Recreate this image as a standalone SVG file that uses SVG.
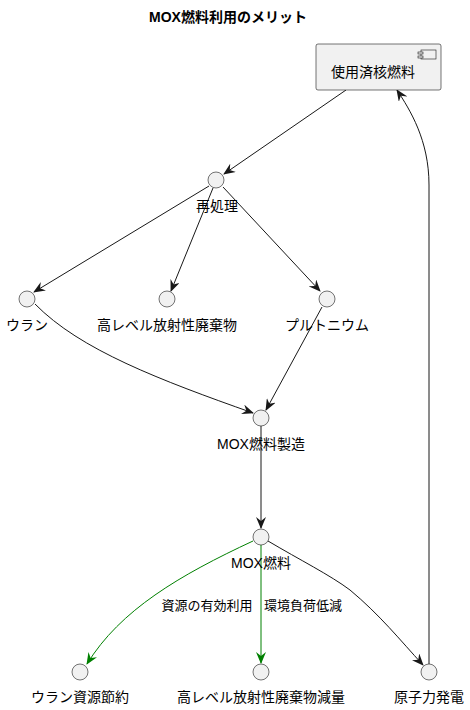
<svg xmlns="http://www.w3.org/2000/svg" width="470" height="710" viewBox="0 0 470 710">
<style>
text{font-family:"Liberation Sans","Noto Sans CJK JP",sans-serif;font-size:14px;fill:#000}
.t{font-weight:bold;font-size:14px}
.lbl{text-anchor:middle}
.el{font-size:13px}
circle{fill:#f1f1f1;stroke:#181818;stroke-width:0.6}
.e{fill:none;stroke:#181818;stroke-width:1}
.g{fill:none;stroke:#008000;stroke-width:1}
</style>
<defs>
<marker id="a" viewBox="0 0 12 10" refX="11" refY="5" markerWidth="12" markerHeight="10" markerUnits="userSpaceOnUse" orient="auto"><path d="M0,0 L12,5 L0,10 L4,5 Z" fill="#181818"/></marker>
<marker id="ag" viewBox="0 0 12 10" refX="11" refY="5" markerWidth="12" markerHeight="10" markerUnits="userSpaceOnUse" orient="auto"><path d="M0,0 L12,5 L0,10 L4,5 Z" fill="#008000"/></marker>
</defs>
<rect width="470" height="710" fill="#fff"/>
<text class="t lbl" x="228" y="22">MOX燃料利用のメリット</text>
<g id="connectors">
<path class="e" d="M346,90 L224,174" marker-end="url(#a)"/>
<path class="e" d="M209,186 L34,292" marker-end="url(#a)"/>
<path class="e" d="M213,188 L171,291" marker-end="url(#a)"/>
<path class="e" d="M223,187 L320,291" marker-end="url(#a)"/>
<path class="e" d="M35,304 C80,350 160,380 253,413" marker-end="url(#a)"/>
<path class="e" d="M322,307 L266,410" marker-end="url(#a)"/>
<path class="e" d="M261,426 L261,528" marker-end="url(#a)"/>
<path class="g" d="M253,541 C180,575 120,610 87,664" marker-end="url(#ag)"/>
<path class="g" d="M261,545 L261,663" marker-end="url(#ag)"/>
<path class="e" d="M268,541 C300,560 330,575 350,590 C380,615 400,640 423,665" marker-end="url(#a)"/>
<path class="e" d="M429,664 L429,185 C429,140 410,110 397,90" marker-end="url(#a)"/>
<text class="el" x="207" y="610" text-anchor="middle">資源の有効利用</text>
<text class="el" x="264" y="610">環境負荷低減</text>
</g>
<g id="n-spent">
<rect x="316" y="44" width="125" height="46" rx="2" fill="#f1f1f1" stroke="#181818" stroke-width="0.6"/>
<rect x="421" y="50" width="15" height="9" fill="#f1f1f1" stroke="#181818" stroke-width="0.6"/>
<rect x="418" y="52" width="5" height="2" fill="#f1f1f1" stroke="#181818" stroke-width="0.6"/>
<rect x="418" y="56" width="5" height="2" fill="#f1f1f1" stroke="#181818" stroke-width="0.6"/>
<text class="lbl" x="373" y="77">使用済核燃料</text>
</g>
<g id="n-reproc"><circle cx="216" cy="180" r="8"/><text class="lbl" x="217" y="211">再処理</text></g>
<g id="n-uran"><circle cx="27" cy="299" r="8"/><text class="lbl" x="27" y="330">ウラン</text></g>
<g id="n-hlw"><circle cx="167" cy="299" r="8"/><text class="lbl" x="167" y="330">高レベル放射性廃棄物</text></g>
<g id="n-pu"><circle cx="327" cy="299" r="8"/><text class="lbl" x="327" y="330">プルトニウム</text></g>
<g id="n-mfg"><circle cx="261" cy="418" r="8"/><text class="lbl" x="261" y="449">MOX燃料製造</text></g>
<g id="n-mox"><circle cx="261" cy="537" r="8"/><text class="lbl" x="261" y="568">MOX燃料</text></g>
<g id="n-save"><circle cx="80" cy="672" r="8"/><text class="lbl" x="80" y="702">ウラン資源節約</text></g>
<g id="n-reduce"><circle cx="261" cy="672" r="8"/><text class="lbl" x="261" y="702">高レベル放射性廃棄物減量</text></g>
<g id="n-power"><circle cx="429" cy="672" r="8"/><text class="lbl" x="429" y="702">原子力発電</text></g>
</svg>
